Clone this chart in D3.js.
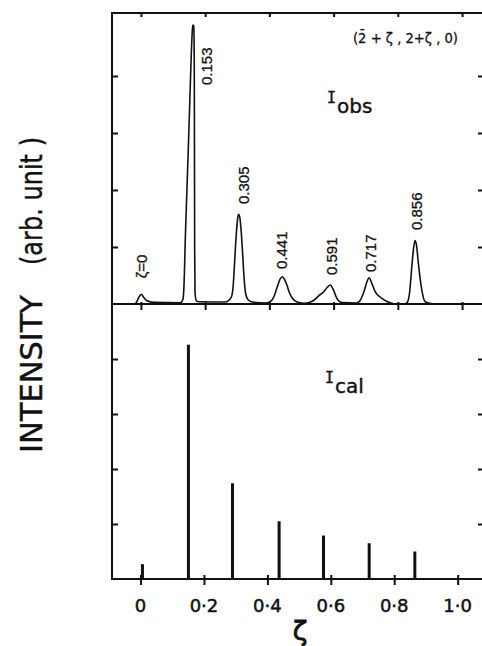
<!DOCTYPE html>
<html><head><meta charset="utf-8">
<script src="https://cdn.jsdelivr.net/npm/d3@7"></script>
<style>
html,body{margin:0;padding:0;background:#fff;}
svg{display:block;}
</style></head>
<body><svg id="c" width="482" height="646"></svg>
<script>
// ---- data ----
const zetaTicks = [0, 0.2, 0.4, 0.6, 0.8, 1.0];
const zetaTickLabels = ["0", "0·2", "0·4", "0·6", "0·8", "1·0"];
const intensityTicks = [1, 2, 3, 4];

const obsZeta = [-0.0174,-0.0103,-0.0040,0.0012,0.0084,0.0190,0.0395,0.1226,0.1313,0.1335,0.1391,0.1475,0.1553,0.1593,0.1615,0.1646,0.1661,0.1668,0.1674,0.1686,0.1724,0.1786,0.2626,0.2750,0.2828,0.2875,0.2922,0.2968,0.3015,0.3040,0.3077,0.3124,0.3170,0.3217,0.3264,0.3342,0.3466,0.3871,0.4026,0.4151,0.4244,0.4337,0.4400,0.4462,0.4546,0.4617,0.4711,0.4866,0.5115,0.5373,0.5529,0.5685,0.5800,0.5893,0.5996,0.6101,0.6257,0.6724,0.6826,0.6951,0.7035,0.7107,0.7191,0.7293,0.7502,0.7760,0.7968,0.8195,0.8279,0.8360,0.8435,0.8491,0.8538,0.8584,0.8640,0.8746,0.8849,0.9107];
const obsIntensity = [0,0.070,0.140,0.170,0.118,0.058,0.030,0.023,0.088,0.246,1.298,2.702,4.105,4.719,4.895,4.877,4.281,2.702,0.947,0.193,0.061,0.040,0.035,0.070,0.140,0.333,0.772,1.211,1.509,1.574,1.526,1.263,0.860,0.421,0.175,0.070,0.035,0.018,0.040,0.140,0.298,0.439,0.479,0.439,0.333,0.211,0.105,0.035,0.012,0.061,0.140,0.211,0.289,0.333,0.246,0.100,0.026,0.018,0.061,0.228,0.386,0.461,0.363,0.216,0.100,0.023,0,0,0.018,0.175,0.649,0.982,1.111,1.018,0.714,0.246,0.040,0];

// calculated intensities (I_cal)
const calZeta = [0.006, 0.151, 0.290, 0.437, 0.577, 0.721, 0.865];
const calIntensity = [0.27, 4.26, 1.74, 1.05, 0.79, 0.65, 0.50];

// peak labels
const peakLabels = ["ζ=0", "0.153", "0.305", "0.441", "0.591", "0.717", "0.856"];
const peakLabelZeta = [0.0184, 0.2212, 0.3351, 0.4546, 0.6101, 0.7324, 0.8746];
const peakLabelI = [0.451, 3.842, 1.754, 0.614, 0.509, 0.561, 1.298];

// ---- drawing ----
const svg = d3.select("#c");
const FRAME_L = 112, FRAME_R = 484;
const xTop = d3.scaleLinear().domain([-0.09, 1.12]).range([112, 500.6]);
const xBot = d3.scaleLinear().domain([-0.09, 1.12]).range([112, 495.7]);
const yTop = d3.scaleLinear().domain([0, 5.105]).range([304, 13]);
const yBot = d3.scaleLinear().domain([0, 5]).range([579, 304]);

const ink = "#111";

// frame lines
const frame = svg.append("g").attr("stroke", ink).attr("stroke-width", 2).attr("fill", "none");
frame.append("line").attr("x1", FRAME_L).attr("x2", FRAME_L).attr("y1", yTop.range()[1] - 1).attr("y2", yBot.range()[0] + 1);
frame.append("line").attr("x1", FRAME_L).attr("x2", FRAME_R).attr("y1", yTop.range()[1]).attr("y2", yTop.range()[1]);
frame.append("line").attr("x1", FRAME_L).attr("x2", FRAME_R).attr("y1", yTop(0)).attr("y2", yTop(0));
frame.append("line").attr("x1", FRAME_L).attr("x2", FRAME_R).attr("y1", yBot(0)).attr("y2", yBot(0));

function styleAxis(g, w) {
  g.select(".domain").remove();
  g.selectAll(".tick line").attr("stroke", ink).attr("stroke-width", w || 2);
  g.selectAll(".tick text").remove();
}

// left/right ticks
svg.append("g").attr("transform", `translate(${FRAME_L},0)`)
  .call(d3.axisRight(yTop).tickValues(intensityTicks).tickSize(6).tickFormat("")).call(styleAxis);
svg.append("g").attr("transform", `translate(${FRAME_R},0)`)
  .call(d3.axisLeft(yTop).tickValues(intensityTicks).tickSize(6).tickFormat("")).call(styleAxis);
svg.append("g").attr("transform", `translate(${FRAME_L},0)`)
  .call(d3.axisRight(yBot).tickValues(intensityTicks).tickSize(6).tickFormat("")).call(styleAxis);
svg.append("g").attr("transform", `translate(${FRAME_R},0)`)
  .call(d3.axisLeft(yBot).tickValues(intensityTicks).tickSize(6).tickFormat("")).call(styleAxis);

// zeta ticks
svg.append("g").attr("transform", `translate(0,${yTop.range()[1]})`)
  .call(d3.axisBottom(xTop).tickValues(zetaTicks).tickSize(4).tickFormat("")).call(styleAxis);
svg.append("g").attr("transform", `translate(0,${yTop(0) - 2})`)
  .call(d3.axisBottom(xTop).tickValues(zetaTicks).tickSize(8).tickFormat("")).call(styleAxis);
svg.append("g").attr("transform", `translate(0,${yBot(0) - 4})`)
  .call(d3.axisBottom(xBot).tickValues(zetaTicks).tickSize(10).tickFormat("")).call(styleAxis);

// tick labels
svg.append("g").selectAll("text").data(zetaTicks).join("text")
  .attr("x", d => xBot(d)).attr("y", yBot(0) + 32.5)
  .attr("text-anchor", "middle")
  .attr("font-family", "DejaVu Sans").attr("font-size", 18).attr("fill", ink)
  .attr("stroke", ink).attr("stroke-width", 0.5)
  .text((d, i) => zetaTickLabels[i]);

// axis titles
svg.append("text").attr("x", 300).attr("y", 640).attr("text-anchor", "middle")
  .attr("font-family", "DejaVu Sans").attr("font-size", 27).attr("fill", ink)
  .attr("stroke", ink).attr("stroke-width", 0.8).text("ζ");

svg.append("text").attr("transform", "translate(41.7,453) rotate(-90)")
  .attr("font-family", "DejaVu Sans").attr("font-size", 31).attr("fill", ink)
  .attr("stroke", ink).attr("stroke-width", 0.4)
  .attr("textLength", 158).attr("lengthAdjust", "spacingAndGlyphs").text("INTENSITY");
svg.append("text").attr("transform", "translate(41.7,265) rotate(-90)")
  .attr("font-family", "DejaVu Sans").attr("font-size", 31).attr("fill", ink)
  .attr("stroke", ink).attr("stroke-width", 0.4)
  .attr("textLength", 128).attr("lengthAdjust", "spacingAndGlyphs").text("(arb. unit )");

// observed curve
const obs = obsZeta.map((z, i) => [z, obsIntensity[i]]);
svg.append("path").datum(obs)
  .attr("fill", "none").attr("stroke", ink).attr("stroke-width", 1.6).attr("stroke-linejoin", "round")
  .attr("d", d3.line().x(d => xTop(d[0])).y(d => yTop(d[1])).curve(d3.curveMonotoneX));

// calculated sticks
svg.append("g").selectAll("line").data(calZeta).join("line")
  .attr("x1", d => xBot(d)).attr("x2", d => xBot(d))
  .attr("y1", yBot(0)).attr("y2", (d, i) => yBot(calIntensity[i]))
  .attr("stroke", ink).attr("stroke-width", 3);

// peak labels
svg.append("g").selectAll("text").data(peakLabels).join("text")
  .attr("transform", (d, i) => `translate(${xTop(peakLabelZeta[i])},${yTop(peakLabelI[i])}) rotate(-90)`)
  .attr("font-family", "Liberation Sans").attr("font-size", 15).attr("fill", ink)
  .attr("stroke", ink).attr("stroke-width", 0.3)
  .text(d => d);

// panel annotations
const ann = svg.append("text").attr("x", 353).attr("y", 43)
  .attr("font-family", "DejaVu Sans").attr("font-size", 14).attr("fill", ink)
  .attr("stroke", ink).attr("stroke-width", 0.3)
  .attr("textLength", 105).attr("lengthAdjust", "spacingAndGlyphs");
ann.text("(2\u0304 + ζ , 2+ζ , 0)");

const obsT = svg.append("text").attr("x", 327).attr("y", 103).attr("fill", ink).attr("font-family", "DejaVu Sans")
  .attr("stroke", ink).attr("stroke-width", 0.4);
obsT.append("tspan").attr("font-family", "DejaVu Sans Mono").attr("font-size", 15).text("I");
obsT.append("tspan").attr("font-size", 20).attr("dx", 1).attr("dy", 10).text("obs");

const calT = svg.append("text").attr("x", 325).attr("y", 383).attr("fill", ink).attr("font-family", "DejaVu Sans")
  .attr("stroke", ink).attr("stroke-width", 0.4);
calT.append("tspan").attr("font-family", "DejaVu Sans Mono").attr("font-size", 15).text("I");
calT.append("tspan").attr("font-size", 20).attr("dx", 1).attr("dy", 10).text("cal");
</script></body></html>
